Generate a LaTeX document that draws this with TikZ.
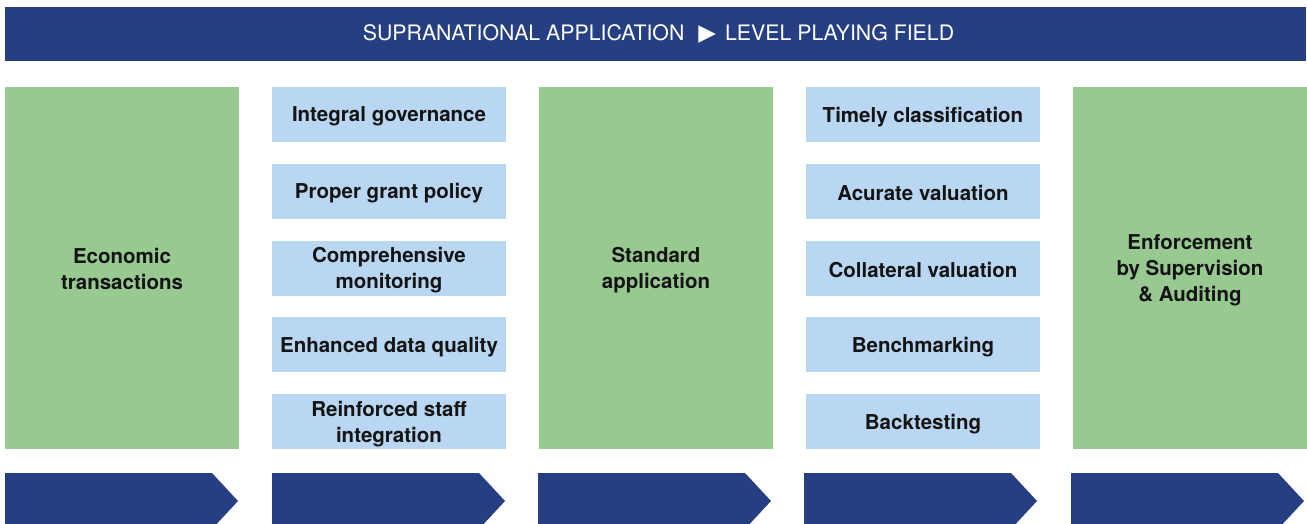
\documentclass[tikz,border=0pt]{standalone}
\usepackage{fontspec}
\setmainfont{TeX Gyre Heros}
\newfontfamily\symfont{DejaVu Sans}
\definecolor{navy}{RGB}{37,63,130}
\definecolor{leafgreen}{RGB}{152,201,145}
\definecolor{paleblue}{RGB}{185,214,242}
\definecolor{inkblack}{RGB}{20,20,20}

\tikzstyle{banner} = [fill=navy, text=white, minimum width=1301pt, minimum height=54.5pt, inner sep=0pt, font=\fontsize{21.3}{25}\selectfont]
\tikzstyle{stage} = [fill=leafgreen, minimum width=234pt, minimum height=362pt, inner sep=0pt]
\tikzstyle{task} = [fill=paleblue, minimum width=234pt, minimum height=55pt, inner sep=0pt]
\tikzstyle{boxtext} = [text=inkblack, align=center, inner sep=0pt, yshift=-2.2pt, font=\fontsize{20.5}{26}\selectfont\bfseries]
\tikzstyle{chevron} = [fill=navy]

\begin{document}
\begin{tikzpicture}[x=1pt, y=-1pt]
      \useasboundingbox (0,0) rectangle (1307,524);
      \clip (0,0) rectangle (1307,524);
      \node[banner] (top) at (655.5,34.25) {\hspace{6pt}SUPRANATIONAL APPLICATION\hspace{14pt}{\symfont\fontsize{23}{25}\selectfont ▶}\hspace{9pt}LEVEL PLAYING FIELD};
      % columns
      \node[stage, label={[boxtext, yshift=0.8pt]center:{Economic\\transactions}}] (econ) at (122,268) {};
      \node[task, label={[boxtext]center:Integral governance}] (gov) at (389,114.5) {};
      \node[task, label={[boxtext]center:Proper grant policy}] (grant) at (389,191.25) {};
      \node[task, label={[boxtext]center:{Comprehensive\\monitoring}}] (monit) at (389,268) {};
      \node[task, label={[boxtext]center:Enhanced data quality}] (data) at (389,344.75) {};
      \node[task, label={[boxtext]center:{Reinforced staff\\integration}}] (staff) at (389,421.5) {};
      \node[stage, label={[boxtext]center:{Standard\\application}}] (std) at (656,268) {};
      \node[task, label={[boxtext]center:Timely classification}] (classif) at (923,114.5) {};
      \node[task, label={[boxtext]center:Acurate valuation}] (valu) at (923,191.25) {};
      \node[task, label={[boxtext]center:Collateral valuation}] (collat) at (923,268) {};
      \node[task, label={[boxtext]center:Benchmarking}] (bench) at (923,344.75) {};
      \node[task, label={[boxtext]center:Backtesting}] (back) at (923,421.5) {};
      \node[stage, label={[boxtext]center:{Enforcement\\by Supervision\\\& Auditing}}] (enf) at (1190,268) {};
      % arrows
      \fill[chevron] (5,473) -- ++(207,0) -- ++(26,28) -- ++(-26,28) -- ++(-207,0) -- cycle;
      \fill[chevron] (272,473) -- ++(207,0) -- ++(26,28) -- ++(-26,28) -- ++(-207,0) -- cycle;
      \fill[chevron] (538,473) -- ++(207,0) -- ++(26,28) -- ++(-26,28) -- ++(-207,0) -- cycle;
      \fill[chevron] (804,473) -- ++(207,0) -- ++(26,28) -- ++(-26,28) -- ++(-207,0) -- cycle;
      \fill[chevron] (1071,473) -- ++(207,0) -- ++(26,28) -- ++(-26,28) -- ++(-207,0) -- cycle;
    \end{tikzpicture}
\end{document}
